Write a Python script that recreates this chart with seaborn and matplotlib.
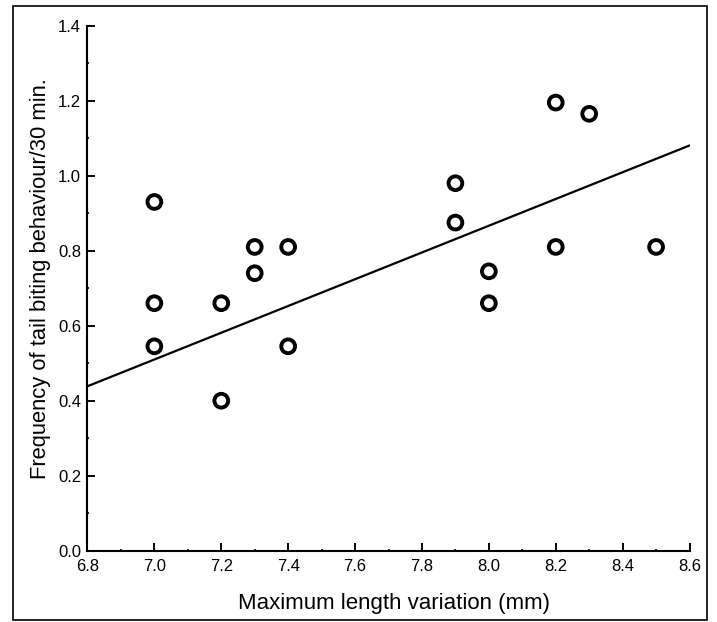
import pandas as pd
import seaborn as sns
import matplotlib.pyplot as plt
import numpy as np
from matplotlib.patches import Rectangle
from matplotlib.ticker import MultipleLocator

# valores
comprimento = [7.0, 7.0, 7.0, 7.2, 7.2, 7.3, 7.3, 7.4, 7.4,
               7.9, 7.9, 8.0, 8.0, 8.2, 8.2, 8.3, 8.5]
frequencia = [0.93, 0.66, 0.545, 0.66, 0.40, 0.81, 0.74, 0.81, 0.545,
              0.98, 0.875, 0.745, 0.66, 1.195, 0.81, 1.165, 0.81]

# reta ajustada
reta_x = [6.8, 8.6]
reta_inclinacao = 0.3567
reta_intercepto = -1.987

df = pd.DataFrame({'comprimento': comprimento, 'frequencia': frequencia})
df_reta = pd.DataFrame({'x': reta_x})
df_reta['y'] = reta_intercepto + reta_inclinacao * df_reta['x']

sns.set_style("ticks", {"axes.edgecolor": "black", "xtick.color": "black",
                        "ytick.color": "black", "text.color": "black",
                        "axes.labelcolor": "black"})
plt.rcParams['font.family'] = ['Liberation Sans', 'DejaVu Sans']

fig = plt.figure(figsize=(7.17, 6.22), dpi=100)
ax = fig.add_axes([0.1220, 0.1146, 0.9617 - 0.1220, 0.9587 - 0.1146])

sns.lineplot(data=df_reta, x='x', y='y', color='black', linewidth=1.6, ax=ax)
sns.scatterplot(data=df, x='comprimento', y='frequencia', s=98, marker='o',
                facecolor='none', edgecolor='black', linewidth=2.8, ax=ax, zorder=3)

ax.set_xlim(6.8, 8.6)
ax.set_ylim(0, 1.4)
ax.xaxis.set_major_locator(MultipleLocator(0.2))
ax.xaxis.set_minor_locator(MultipleLocator(0.1))
ax.yaxis.set_major_locator(MultipleLocator(0.2))
ax.yaxis.set_minor_locator(MultipleLocator(0.1))
ax.xaxis.set_major_formatter(plt.FormatStrFormatter('%.1f'))
ax.yaxis.set_major_formatter(plt.FormatStrFormatter('%.1f'))
ax.tick_params(which='major', direction='in', length=6, width=1.4,
               labelsize=12, pad=6)
ax.tick_params(axis='y', which='major', pad=4.5)
ax.tick_params(which='minor', direction='in', length=1.5, width=1.2)

sns.despine(ax=ax)
for lado in ['left', 'bottom']:
    ax.spines[lado].set_linewidth(1.5)

ax.set_xlabel("Maximum length variation (mm)", fontsize=16, labelpad=14)
ax.set_ylabel("Frequency of tail biting behaviour/30 min.", fontsize=15.8, labelpad=5)
ax.xaxis.label.set_x(0.509)
ax.yaxis.label.set_y(0.5175)

# moldura em volta da figura
fig.patches.append(Rectangle((13 / 717, 1 - 620 / 622), (707 - 13) / 717, (620 - 6) / 622,
                             transform=fig.transFigure, fill=False,
                             edgecolor='black', linewidth=1.2))

plt.savefig('out.png', dpi=100)
